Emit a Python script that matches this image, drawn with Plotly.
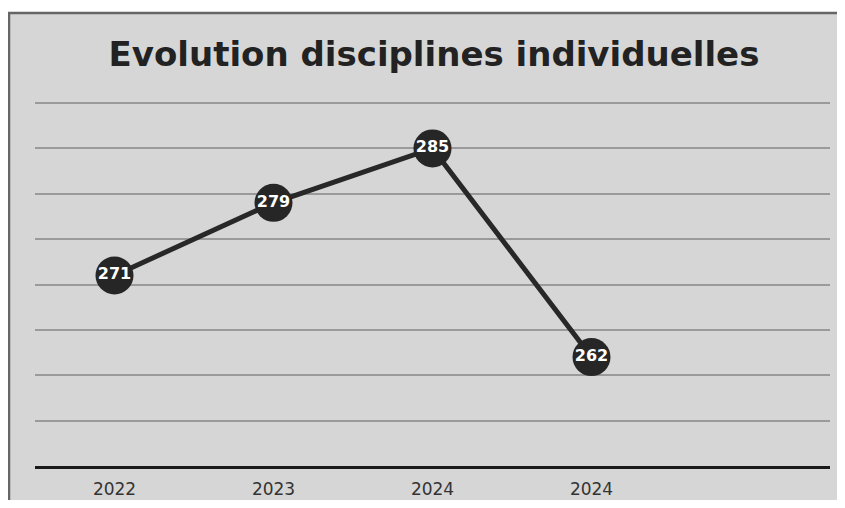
import plotly.graph_objects as go

years = ["2022", "2023", "2024", "2024"]
values = [271, 279, 285, 262]
positions = [0, 1, 2, 3]
y_ticks = [250, 255, 260, 265, 270, 275, 280, 285, 290]

# page has an 8px body margin, so the figure is 829x492
W, H = 829, 492
L, R, T, B = 27, 7, 91, 34
pw, ph = W - L - R, H - T - B
y_top = 290 + 4 / (363 / 40)

def px_x(p):
    return (p - L) / pw

def px_y(p):
    return (H - B - p) / ph

fig = go.Figure()
fig.add_trace(go.Scatter(
    x=positions, y=values, mode="lines+markers+text",
    line=dict(color="#282828", width=5),
    marker=dict(size=38, color="#262626", line=dict(width=0)),
    text=[str(v) for v in values], textposition="middle center",
    textfont=dict(family="DejaVu Sans", size=16, color="white", weight="bold"),
    cliponaxis=False, hoverinfo="skip",
))

fig.update_layout(
    width=W, height=H,
    margin=dict(l=L, r=R, t=T, b=B),
    paper_bgcolor="white",
    plot_bgcolor="rgba(0,0,0,0)",
    showlegend=False,
    title=dict(text="<b>Evolution disciplines individuelles</b>",
               font=dict(family="DejaVu Sans", size=34, color="#222222"),
               x=426 / W, xanchor="center", y=1 - 46 / H, yanchor="middle"),
    shapes=[dict(type="rect", xref="paper", yref="paper", layer="below",
                 x0=px_x(1), x1=px_x(W + 20), y0=px_y(5), y1=px_y(H + 20),
                 fillcolor="#d6d6d6", line=dict(color="#666666", width=2.5))],
)
fig.update_xaxes(range=[-0.5, 4.5], tickvals=positions, ticktext=years,
                 showgrid=False, zeroline=False, automargin=False,
                 showline=True, linecolor="#1a1a1a", linewidth=3,
                 ticks="outside", ticklen=6, tickcolor="rgba(0,0,0,0)",
                 tickfont=dict(family="DejaVu Sans", size=17, color="#333333"))
fig.update_yaxes(range=[250, y_top], tickvals=y_ticks, showticklabels=False,
                 automargin=False,
                 showgrid=True, gridcolor="#9a9a9a", gridwidth=1.5, zeroline=False)

fig.write_html("out.html")
